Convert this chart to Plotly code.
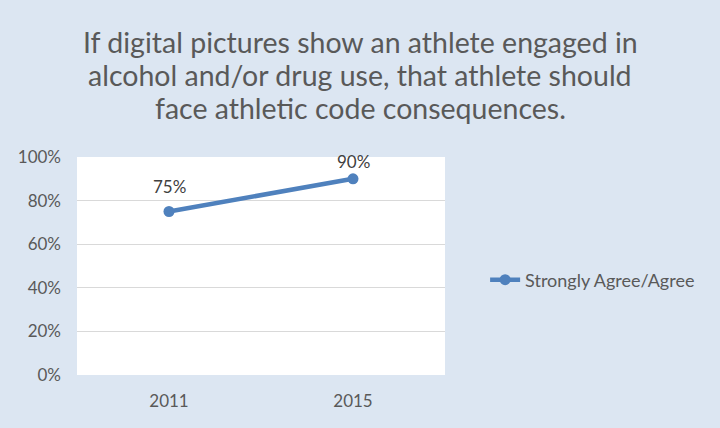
import plotly.graph_objects as go

years = ["2011", "2015"]
values = [0.75, 0.90]
labels = ["75%", "90%"]
series_name = "Strongly Agree/Agree"
title_lines = [
    "If digital pictures show an athlete engaged in",
    "alcohol and/or drug use, that athlete should",
    "face athletic code consequences.",
]

fig = go.Figure()
fig.add_trace(go.Scatter(
    x=years, y=values, name=series_name,
    mode="lines+markers",
    line=dict(color="#4F81BD", width=4.5),
    marker=dict(size=11, color="#4F81BD"),
    cliponaxis=False, showlegend=True,
))

# data labels (category index positions)
label_shifts = [25, 17]
for i, (yv, t, s) in enumerate(zip(values, labels, label_shifts)):
    fig.add_annotation(xref="x", yref="y", x=i, y=yv, text=t, showarrow=False,
                       yshift=s, xanchor="center", yanchor="middle",
                       font=dict(size=17, color="#404040", family="Lato"))

# title lines
title_y = [1.527, 1.377, 1.226]
for line, ty in zip(title_lines, title_y):
    fig.add_annotation(xref="paper", yref="paper", x=(360 - 77) / 368, y=ty,
                       text=line, showarrow=False, xanchor="center", yanchor="middle",
                       font=dict(size=28.5, color="#595959", family="Lato"))

fig.update_layout(
    width=720, height=428,
    paper_bgcolor="#DCE6F2", plot_bgcolor="#FFFFFF",
    margin=dict(l=77, r=275, t=157, b=53),
    font=dict(family="Lato", color="#595959"),
    xaxis=dict(type="category", range=[-0.5, 1.5], showgrid=False,
               showline=False, ticks="", ticklabelstandoff=14,
               tickfont=dict(size=17, color="#595959")),
    yaxis=dict(range=[0, 1], dtick=0.2, tickformat=".0%", showgrid=True,
               gridcolor="#D9D9D9", gridwidth=1, zeroline=False, showline=False,
               ticks="", ticklabelstandoff=15,
               tickfont=dict(size=17, color="#595959")),
    legend=dict(x=1.109, xanchor="left", y=0.436, yanchor="middle",
                bgcolor="rgba(0,0,0,0)", font=dict(size=18, color="#595959")),
)

fig.write_html("out.html")
